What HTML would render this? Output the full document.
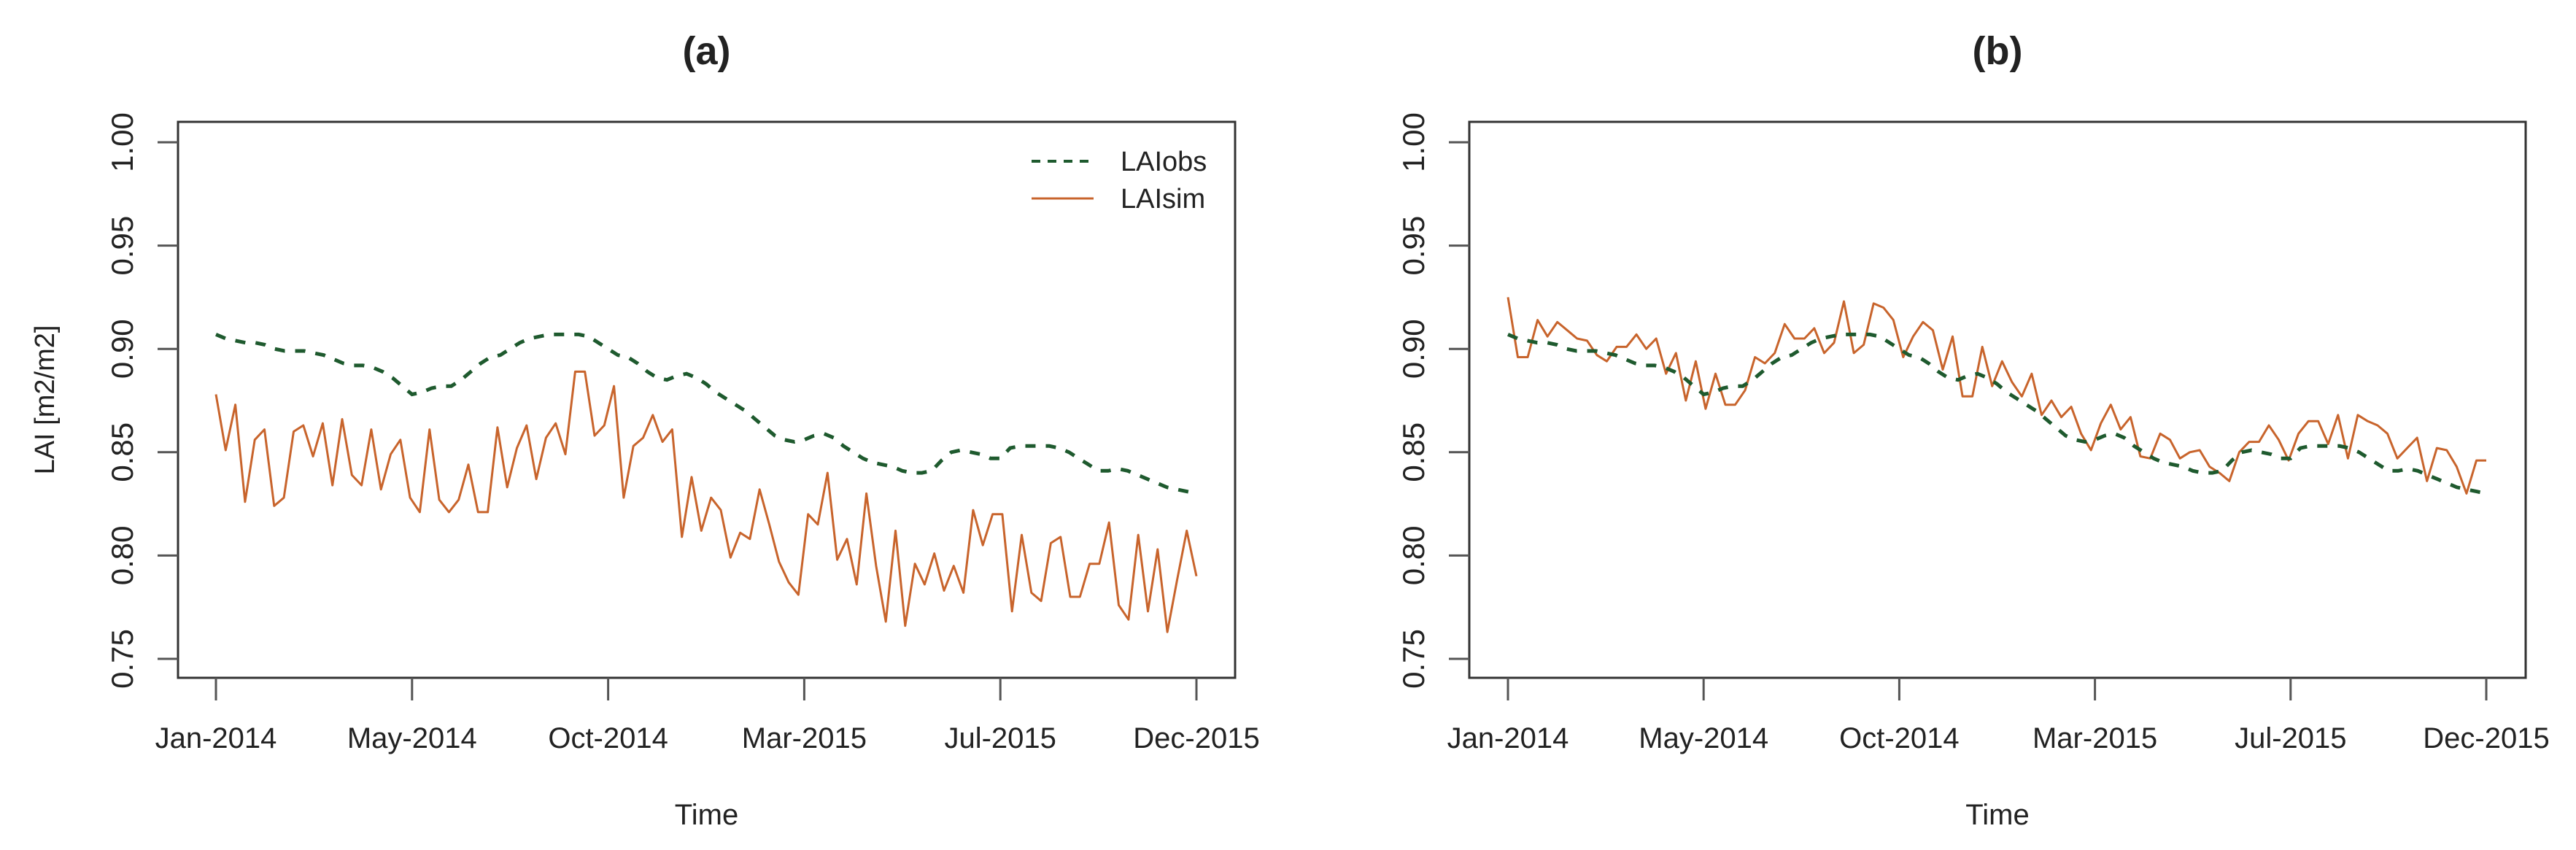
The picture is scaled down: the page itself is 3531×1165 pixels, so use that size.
<!DOCTYPE html>
<html><head><meta charset="utf-8"><style>
html,body{margin:0;padding:0;background:#fff;}
svg text{font-family:"Liberation Sans",sans-serif;fill:#222;}
</style></head><body>
<svg id="chart" width="3531" height="1160" viewBox="0 0 3531 1160" xmlns="http://www.w3.org/2000/svg"></svg>
<script>
const xTickLabels = ["Jan-2014","May-2014","Oct-2014","Mar-2015","Jul-2015","Dec-2015"];
const xTickIdx = [0,20,40,60,80,100];
const yTicks = [0.75,0.80,0.85,0.90,0.95,1.00];
const yTickLabels = ["0.75","0.80","0.85","0.90","0.95","1.00"];
const laiObs = [.907,.905,.904,.903,.903,.902,.900,.899,.899,.899,.898,.897,.895,.893,.892,.892,.891,.889,.886,.882,.878,.879,.881,.882,.882,.885,.889,.893,.896,.897,.900,.903,.905,.906,.907,.907,.907,.907,.906,.903,.900,.897,.896,.893,.889,.886,.885,.887,.888,.886,.883,.879,.876,.873,.870,.866,.862,.858,.856,.855,.856,.858,.859,.857,.853,.850,.847,.845,.844,.843,.841,.840,.840,.841,.846,.850,.851,.850,.849,.847,.847,.852,.853,.853,.853,.853,.852,.850,.847,.844,.841,.841,.842,.841,.839,.837,.835,.833,.832,.831,.830];
const laiSimA = [.878,.851,.873,.826,.856,.861,.824,.828,.860,.863,.848,.864,.834,.866,.839,.834,.861,.832,.849,.856,.828,.821,.861,.827,.821,.827,.844,.821,.821,.862,.833,.852,.863,.837,.857,.864,.849,.889,.889,.858,.863,.882,.828,.853,.857,.868,.855,.861,.809,.838,.812,.828,.822,.799,.811,.808,.832,.815,.797,.787,.781,.820,.815,.840,.798,.808,.786,.830,.795,.768,.812,.766,.796,.786,.801,.783,.795,.782,.822,.805,.820,.820,.773,.810,.782,.778,.806,.809,.780,.780,.796,.796,.816,.776,.769,.810,.773,.803,.763,.788,.812,.790];
const laiSimB = [.925,.896,.896,.914,.906,.913,.909,.905,.904,.897,.894,.901,.901,.907,.900,.905,.888,.898,.875,.894,.871,.888,.873,.873,.880,.896,.893,.898,.912,.905,.905,.910,.898,.903,.923,.898,.902,.922,.920,.914,.896,.906,.913,.909,.890,.906,.877,.877,.901,.882,.894,.884,.877,.888,.868,.875,.867,.872,.859,.851,.864,.873,.861,.867,.848,.847,.859,.856,.847,.850,.851,.843,.840,.836,.850,.855,.855,.863,.856,.846,.859,.865,.865,.854,.868,.847,.868,.865,.863,.859,.847,.852,.857,.836,.852,.851,.843,.830,.846,.846];

const NS="http://www.w3.org/2000/svg";
const svg=document.getElementById('chart');
function mk(tag,attrs,parent){const e=document.createElementNS(NS,tag);for(const k in attrs)e.setAttribute(k,attrs[k]);(parent||svg).appendChild(e);return e;}
const yScale=v=>903-(v-0.75)/0.25*708;

function panel(p){
  const g=mk('g',{});
  
  
  const xScale=i=>p.x0+(p.x1-p.x0)*i/100;
  const t=mk('text',{x:(p.bl+p.br)/2,y:88,'font-size':54,'font-weight':'bold','text-anchor':'middle'},g);
  t.textContent=p.title;
  
  
  const box=mk('rect',{x:p.bl,y:167,width:p.br-p.bl,height:762,fill:'none',stroke:'#333','stroke-width':3},g);
  
  
  yTicks.forEach((v,k)=>{
    const y=yScale(v);
    const tk=mk('line',{x1:p.bl-28,x2:p.bl,y1:y,y2:y,stroke:'#555','stroke-width':3},g);
    
    
    const lb=mk('text',{x:0,y:0,'font-size':42,'text-anchor':'middle',transform:`translate(${p.bl-62},${y}) rotate(-90)`,fill:'#333'},g);
    lb.textContent=yTickLabels[k];
    
    
  });
  xTickIdx.forEach((ix,k)=>{
    const x=xScale(ix);
    const tk=mk('line',{x1:x,x2:x,y1:929,y2:960,stroke:'#555','stroke-width':3},g);
    
    
    const lb=mk('text',{x:x,y:1025,'font-size':40,'text-anchor':'middle'},g);
    lb.textContent=xTickLabels[k];
    
    
  });
  const xt=mk('text',{x:(p.bl+p.br)/2,y:1130,'font-size':40,'text-anchor':'middle'},g);
  xt.textContent='Time';
  
  
  const line=(arr,attrs,name)=>{
    const n=arr.length;
    const d=arr.map((v,i)=>(i?'L':'M')+xScale(i*100/(n-1)).toFixed(1)+','+yScale(v).toFixed(1)).join(' ');
    const pe=mk('path',Object.assign({d:d,fill:'none'},attrs),g);
    
    
  };
  if(p.obsFirst){
    line(laiObs,{stroke:'#1e5a2e','stroke-width':5,'stroke-dasharray':'14 14'},'lai-obs-line');
    line(p.sim,{stroke:'#c8642c','stroke-width':3,'stroke-linejoin':'round'},'lai-sim-line');
  } else {
    line(p.sim,{stroke:'#c8642c','stroke-width':3,'stroke-linejoin':'round'},'lai-sim-line');
    line(laiObs,{stroke:'#1e5a2e','stroke-width':5,'stroke-dasharray':'14 14'},'lai-obs-line');
  }
  return g;
}

const ga=panel({name:'panel-a',title:'(a)',bl:244,br:1693,x0:296,x1:1640,sim:laiSimA,obsFirst:true});
const gb=panel({name:'panel-b',title:'(b)',bl:2014,br:3462,x0:2067,x1:3408,sim:laiSimB,obsFirst:false});

const yt=mk('text',{x:0,y:0,'font-size':38,'text-anchor':'middle',transform:'translate(74,548) rotate(-90)'},ga);
yt.textContent='LAI [m2/m2]';



const lg=mk('g',{},ga);


const l1=mk('line',{x1:1414,x2:1499,y1:221,y2:221,stroke:'#1e5a2e','stroke-width':4,'stroke-dasharray':'12 10'},lg);


const t1=mk('text',{x:1536,y:234,'font-size':38},lg);
t1.textContent='LAIobs';


const l2=mk('line',{x1:1414,x2:1499,y1:272,y2:272,stroke:'#c8642c','stroke-width':3},lg);


const t2=mk('text',{x:1536,y:285,'font-size':38},lg);
t2.textContent='LAIsim';


</script>
</body></html>
